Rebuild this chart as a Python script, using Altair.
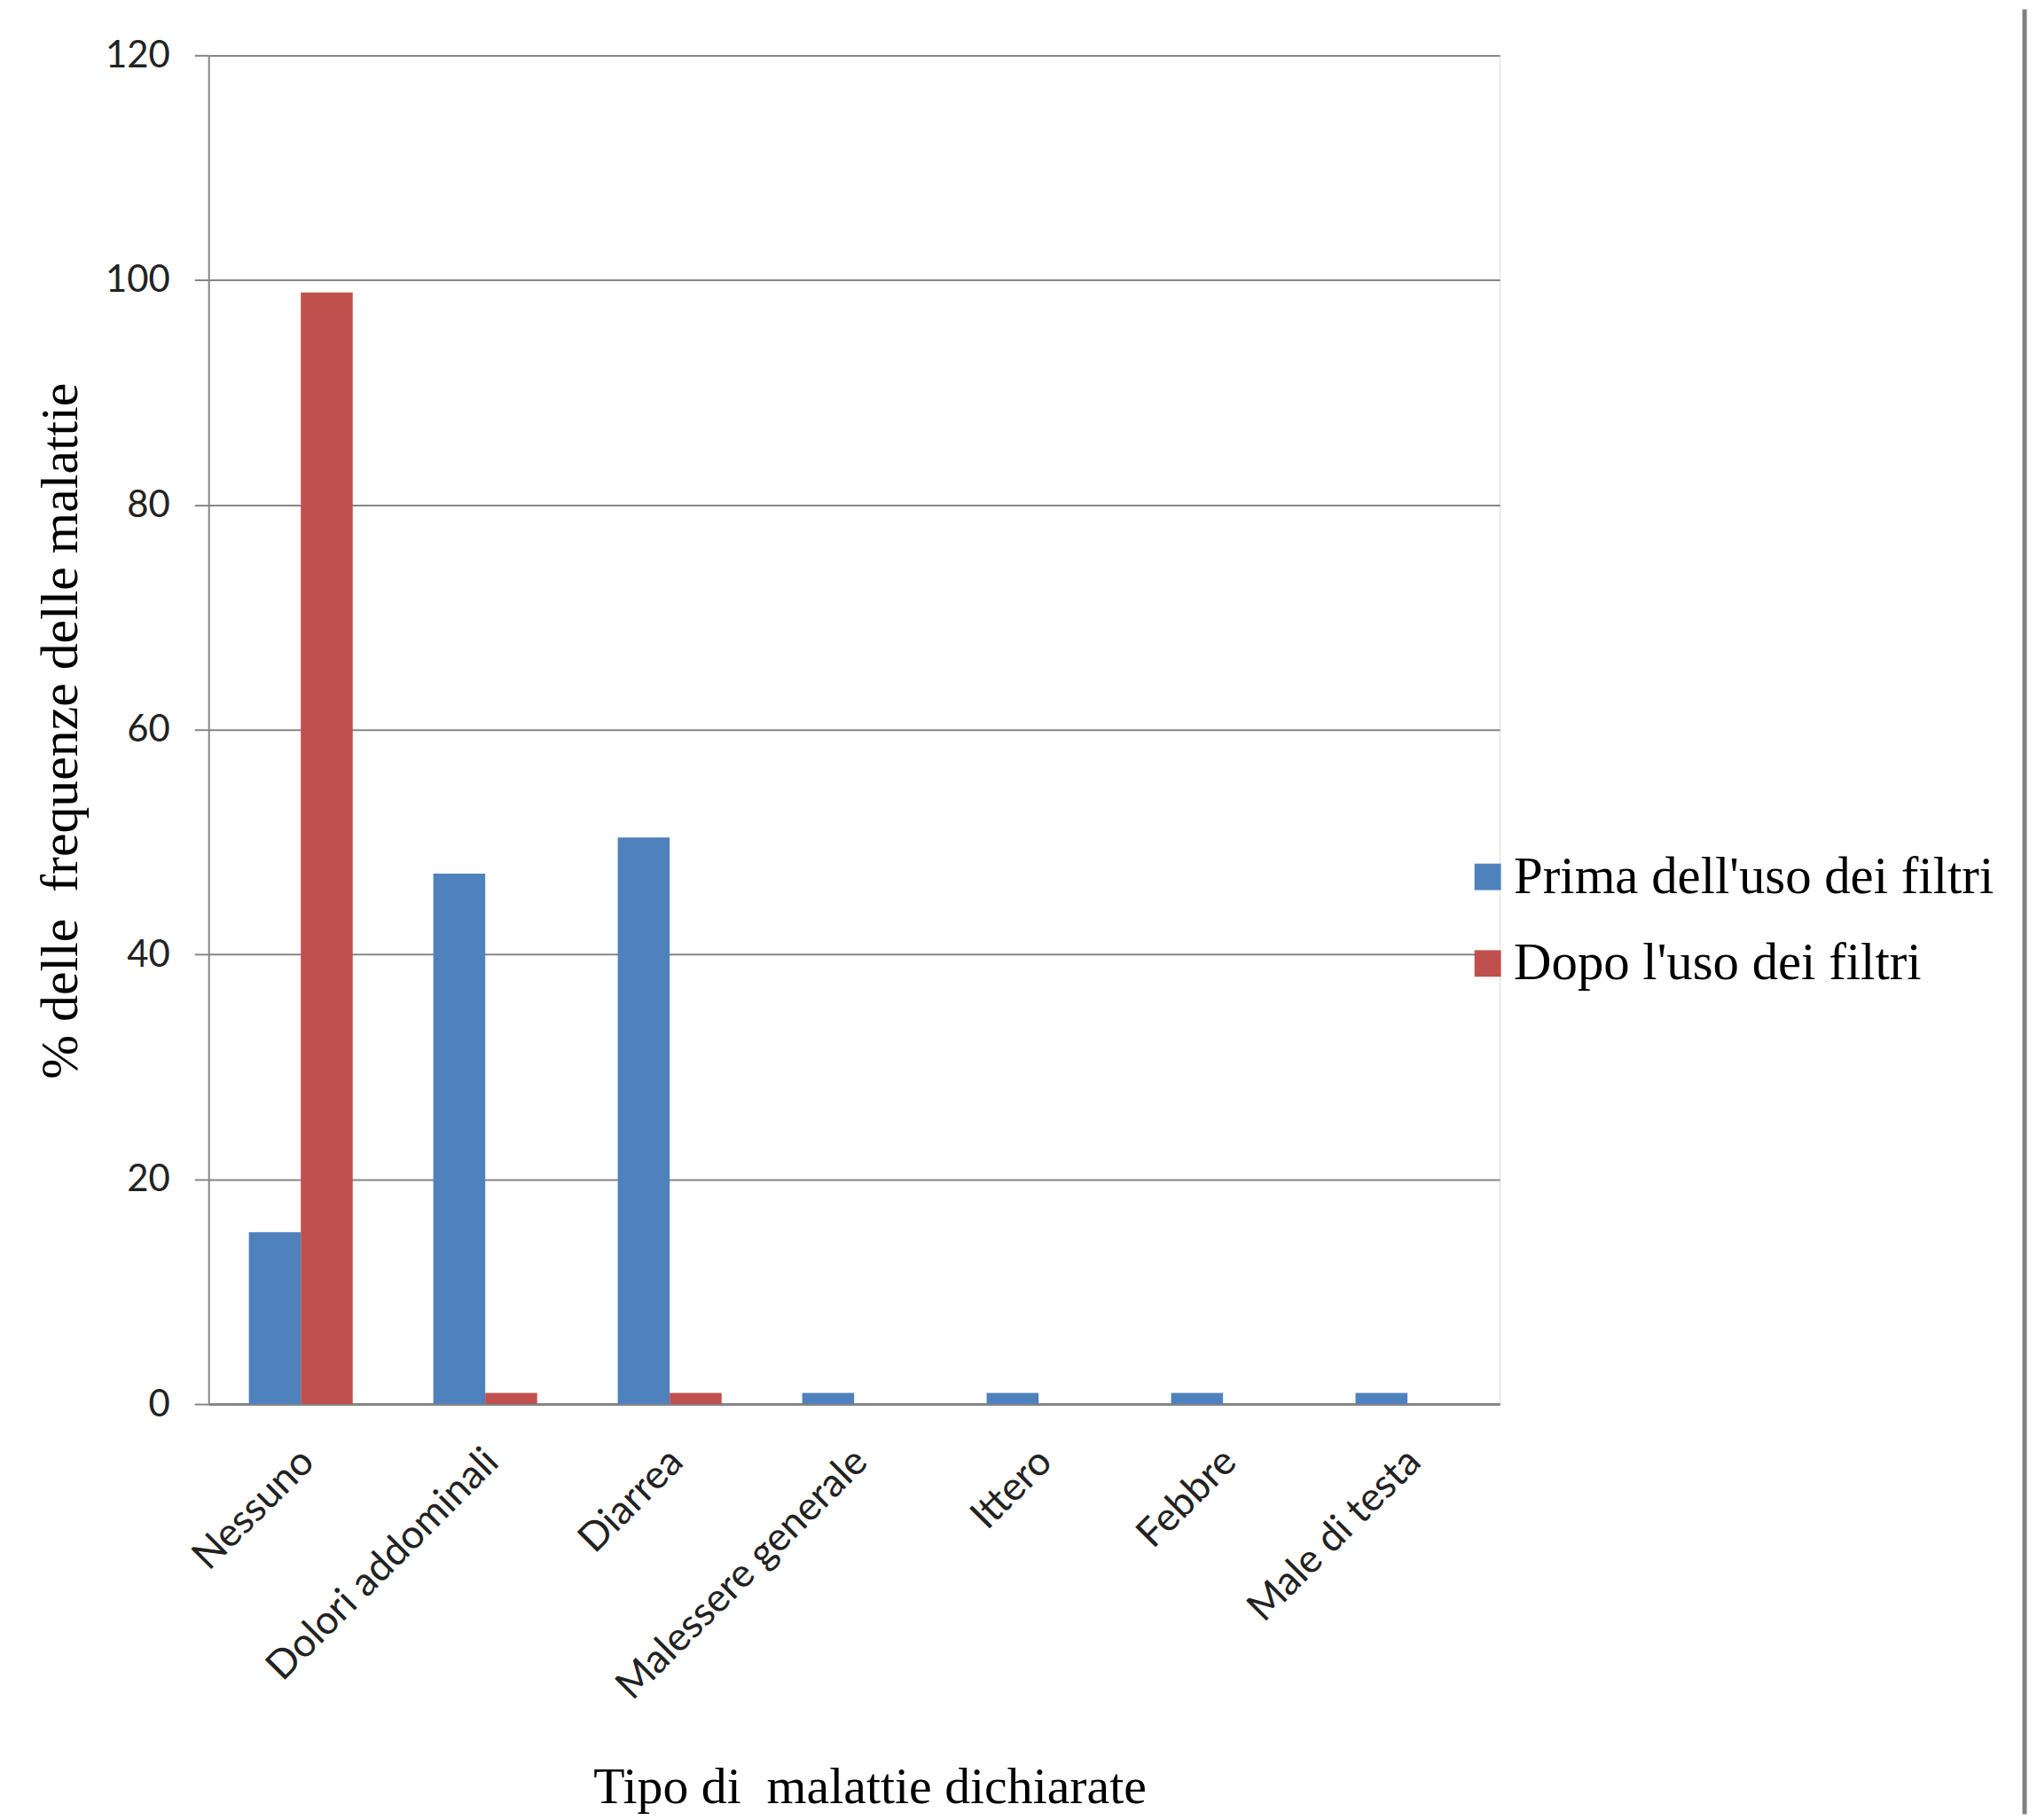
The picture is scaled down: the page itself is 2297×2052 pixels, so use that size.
import altair as alt
import pandas as pd

categories = ["Nessuno", "Dolori addominali", "Diarrea", "Malessere generale",
              "Ittero", "Febbre", "Male di testa"]
prima = [15.3, 47.2, 50.4, 1, 1, 1, 1]
dopo = [98.9, 1, 1, 0, 0, 0, 0]
series = ["Prima dell'uso dei filtri", "Dopo l'uso dei filtri"]
colors = ["#4F81BD", "#C0504D"]

rows = []
for c, p, d in zip(categories, prima, dopo):
    rows.append({"cat": c, "serie": series[0], "val": p})
    rows.append({"cat": c, "serie": series[1], "val": d})
df = pd.DataFrame(rows)

grey = "#868686"
serif = "Liberation Serif"
sans = "Lato"

bars = alt.Chart(df).mark_bar().encode(
    x=alt.X("cat:N", sort=categories,
            scale=alt.Scale(paddingInner=0.437, paddingOuter=0.2185),
            axis=alt.Axis(title="Tipo di\u00a0 malattie dichiarate", labelAngle=-45,
                          labelFont=sans, labelFontSize=45, labelColor="#222222",
                          labelPadding=42, labelLimit=1000, labelOffset=-8, ticks=False,
                          domainColor=grey, domainWidth=3,
                          titleFont=serif, titleFontSize=58, titleFontWeight="normal",
                          titleColor="#000000", titleX=748, titleY=451,
                          titleBaseline="alphabetic", titleAnchor="middle")),
    xOffset=alt.XOffset("serie:N", sort=series,
                        scale=alt.Scale(domain=series, paddingInner=0, paddingOuter=0)),
    y=alt.Y("val:Q", scale=alt.Scale(domain=[0, 120], nice=False),
            axis=alt.Axis(title="% delle\u00a0 frequenze delle malattie", values=[0, 20, 40, 60, 80, 100, 120],
                          labelFont=sans, labelFontSize=42, labelColor="#222222",
                          labelPadding=28, tickSize=16, tickColor=grey, tickWidth=2,
                          grid=True, gridColor=grey, gridWidth=2,
                          domainColor=grey, domainWidth=2,
                          titleFont=serif, titleFontSize=60, titleFontWeight="normal",
                          titleColor="#000000", titleX=-167, titleY=764,
                          titleBaseline="middle", titleAngle=-90)),
    color=alt.Color("serie:N", sort=series,
                    scale=alt.Scale(domain=series, range=colors),
                    legend=alt.Legend(title=None, orient="none", legendX=1418, legendY=900,
                                      symbolType="square", symbolSize=900,
                                      symbolStrokeWidth=0, labelFont=serif,
                                      labelFontSize=59, labelColor="#000000",
                                      labelOffset=0, rowPadding=38, labelLimit=1000)),
)

edge = alt.Chart(pd.DataFrame({"k": [0]})).mark_rule(color="#7f7f7f", strokeWidth=5).encode(
    x=alt.value(2055), y=alt.value(-52), y2=alt.value(1990)
)

chart = alt.layer(bars, edge).properties(
    width=1461, height=1526,
    autosize=alt.AutoSizeParams(type="none"),
    padding={"left": 228, "top": 51, "right": 600, "bottom": 461},
).configure_view(stroke=None).configure(background="white")

chart.save("out.html", embed_options={"renderer": "svg", "actions": False})
